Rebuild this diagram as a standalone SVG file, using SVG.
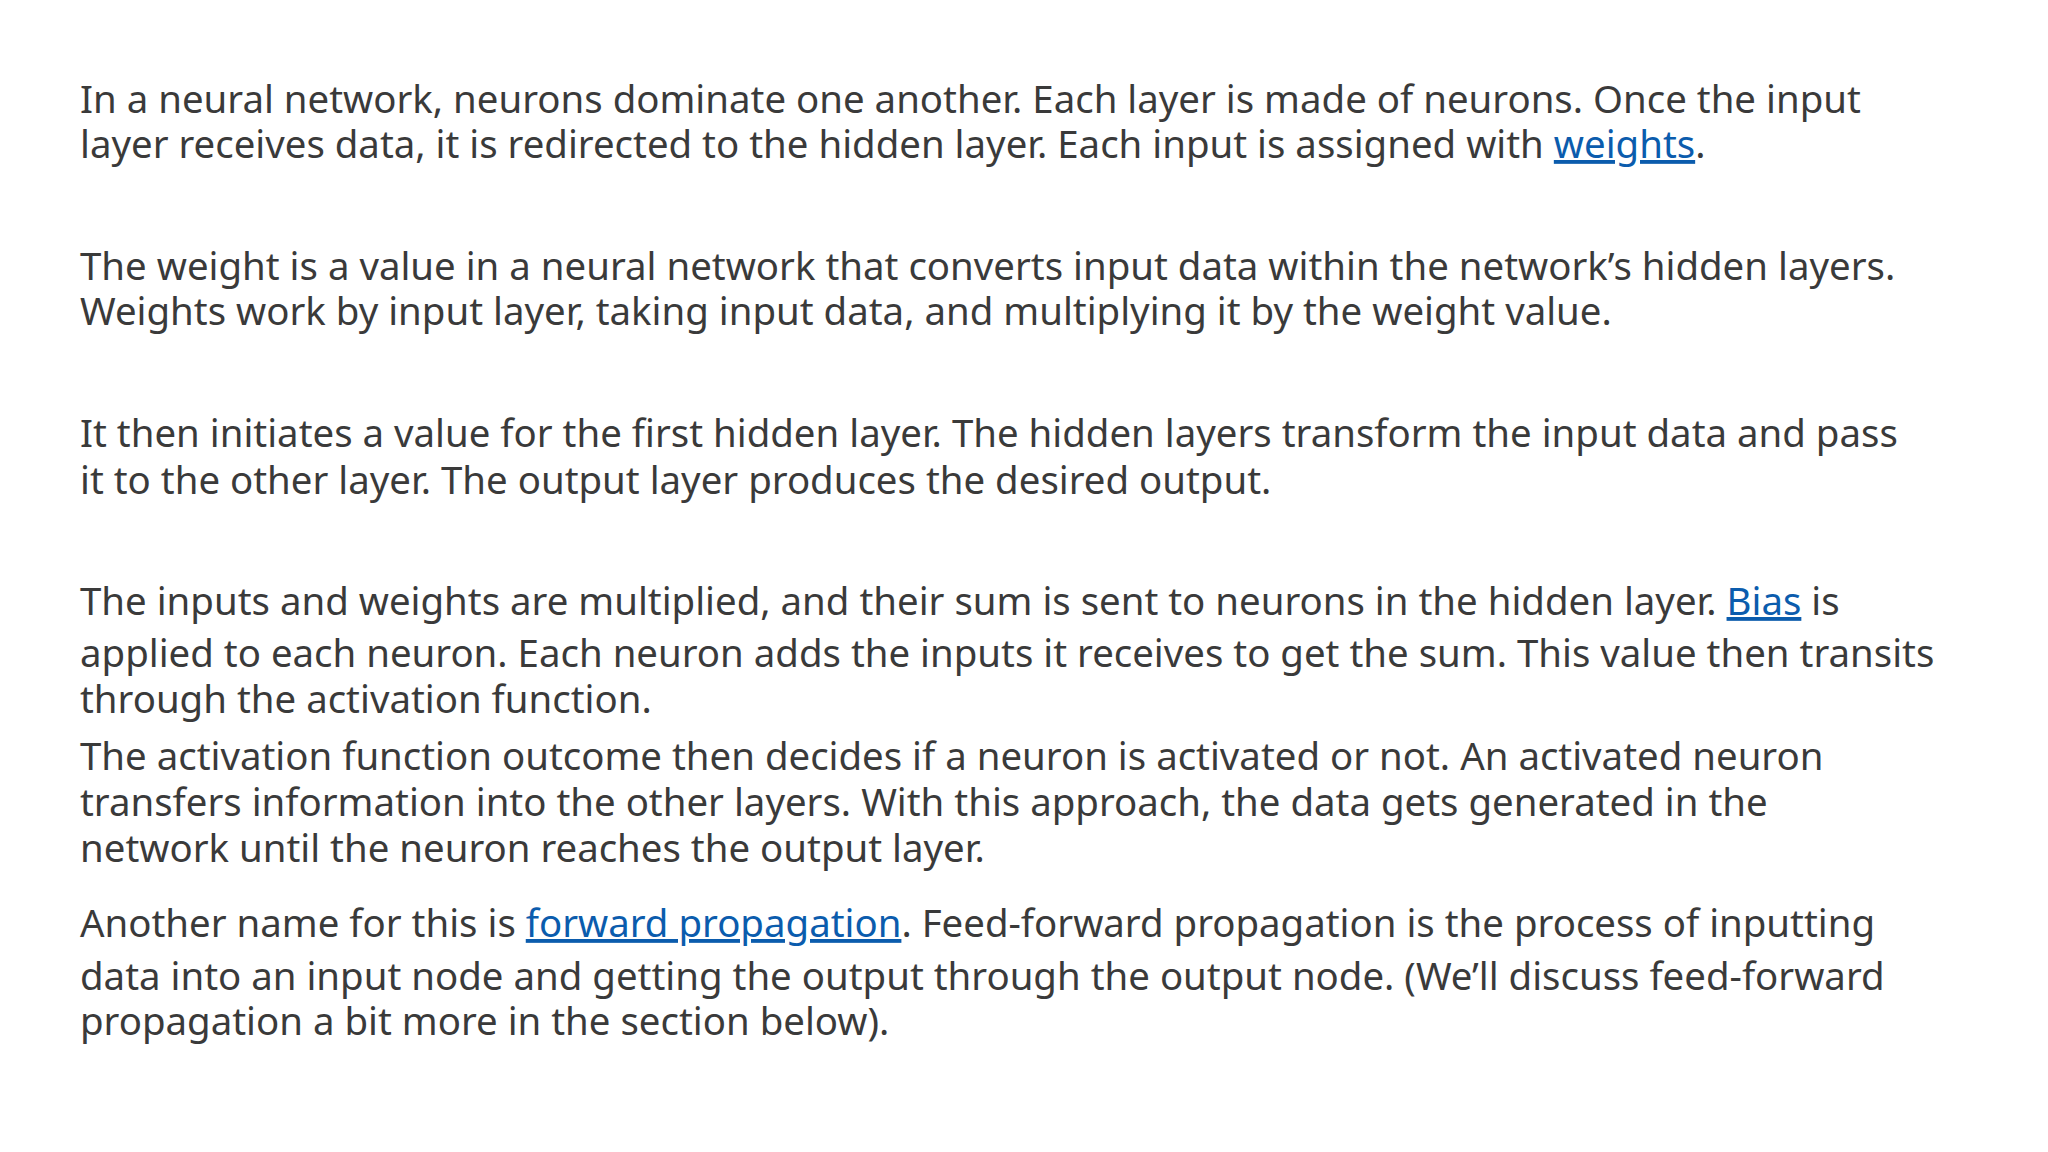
<svg xmlns="http://www.w3.org/2000/svg" width="2048" height="1152" viewBox="0 0 2048 1152">
<style>
text{font-family:"Noto Sans","Open Sans",sans-serif;font-size:38.4px;fill:#3a3a3a}
.a{fill:#0b5cad;text-decoration:underline}
</style>
<rect width="2048" height="1152" fill="#fff"/>
<g id="p1">
<text x="80" y="113">In a neural network, neurons dominate one another. Each layer is made of neurons. Once the input</text>
<text x="80" y="158">layer receives data, it is redirected to the hidden layer. Each input is assigned with <tspan class="a">weights</tspan>.</text>
</g>
<g id="p2">
<text x="80" y="280">The weight is a value in a neural network that converts input data within the network’s hidden layers.</text>
<text x="80" y="325">Weights work by input layer, taking input data, and multiplying it by the weight value.</text>
</g>
<g id="p3">
<text x="80" y="447">It then initiates a value for the first hidden layer. The hidden layers transform the input data and pass</text>
<text x="80" y="494">it to the other layer. The output layer produces the desired output.</text>
</g>
<g id="p4">
<text x="80" y="615">The inputs and weights are multiplied, and their sum is sent to neurons in the hidden layer. <tspan class="a">Bias</tspan> is</text>
<text x="80" y="667">applied to each neuron. Each neuron adds the inputs it receives to get the sum. This value then transits</text>
<text x="80" y="713">through the activation function.</text>
</g>
<g id="p5">
<text x="80" y="770">The activation function outcome then decides if a neuron is activated or not. An activated neuron</text>
<text x="80" y="816">transfers information into the other layers. With this approach, the data gets generated in the</text>
<text x="80" y="862">network until the neuron reaches the output layer.</text>
</g>
<g id="p6">
<text x="80" y="937">Another name for this is <tspan class="a">forward propagation</tspan>. Feed-forward propagation is the process of inputting</text>
<text x="80" y="990">data into an input node and getting the output through the output node. (We’ll discuss feed-forward</text>
<text x="80" y="1035">propagation a bit more in the section below).</text>
</g>
</svg>
